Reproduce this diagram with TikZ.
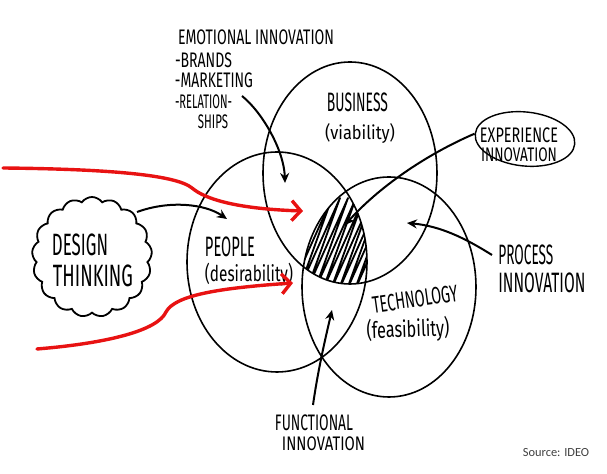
\documentclass[tikz,border=0pt]{standalone}
\usepackage{fontspec}
\usepackage{graphicx}
\usetikzlibrary{shapes.geometric,shapes.symbols,arrows.meta}
\newfontfamily\handfont{Fira Sans}
\newfontfamily\srcfont{Carlito}
\newcommand{\hw}[3]{\resizebox*{#1pt}{#2pt}{\handfont #3}}
\definecolor{redline}{RGB}{232,18,18}
\begin{document}
\begin{tikzpicture}[x=0.5pt,y=-0.5pt,
  ring/.style={draw, ellipse, line width=0.8pt, inner sep=0pt},
  lbl/.style={inner sep=0pt},
  blk/.style={line width=1pt, -{Stealth[length=5pt,width=4.5pt]}},
  redarrow/.style={draw=redline, line width=1.7pt, line cap=round, -{Straight Barb[length=4.5pt,width=10pt]}}
]
\fill[white] (0,0) rectangle (607,474);
\useasboundingbox (0,0) rectangle (607,474);

% three circles
\node[ring, minimum width=87pt, minimum height=111pt] (business) at (350,173) {};
\node[ring, minimum width=90pt, minimum height=110pt] (people) at (277,262) {};
\node[ring, minimum width=87pt, minimum height=110pt] (tech) at (389,287) {};

% hatching of the common part
\begin{scope}
  \clip (350,173) ellipse [x radius=87, y radius=111];
  \clip (277,262) ellipse [x radius=90, y radius=110];
  \clip (389,287) ellipse [x radius=87, y radius=110];
  \draw[line width=0.9pt, line join=round] (250,292)
    \foreach \i in {0,...,17} { -- ({250+8*\i+42},198) -- ({250+8*\i+8},292) };
\end{scope}

% circle labels
\node[lbl] (bizT) at (357.5,102.5) {\hw{30.5}{9.5}{BUSINESS}};
\node[lbl] (bizS) at (360,134) {\hw{35}{10}{(viability)}};
\node[lbl] (peoT) at (230,247) {\hw{25}{10}{PEOPLE}};
\node[lbl] (peoS) at (249,274.5) {\hw{44}{11.5}{(desirability)}};
\node[lbl, rotate=8] (tecT) at (415,299) {\hw{43}{8.5}{TECHNOLOGY}};
\node[lbl, rotate=2] (tecS) at (408,330) {\hw{41.5}{12}{(feasibility)}};

% emotional innovation
\node[lbl] (emo) at (256,37.5) {\hw{78}{7.5}{EMOTIONAL INNOVATION}};
\node[lbl] (brands) at (203.5,60.5) {\hw{28.5}{7.5}{-BRANDS}};
\node[lbl] (mkt) at (214,80.5) {\hw{39}{7.5}{-MARKETING}};
\node[lbl] (rel) at (203.5,102) {\hw{28.5}{7}{-RELATION-}};
\node[lbl] (ships) at (213,122) {\hw{15}{7}{SHIPS}};
\coordinate (emoS) at (242,96);
\coordinate (emoE) at (285,183);
\draw[blk] (emoS) .. controls (262,112) and (284,150) .. (emoE);

% experience innovation
\node[draw, ellipse, line width=0.7pt, inner sep=0pt, minimum width=50pt, minimum height=27pt, rotate=-6] (expE) at (525,139) {};
\node[lbl] (exp1) at (519,135.5) {\hw{39}{7.5}{EXPERIENCE}};
\node[lbl] (exp2) at (519,155) {\hw{38}{7}{INNOVATION}};
\coordinate (hatchTip) at (345,225);
\draw[blk] (expE.west) .. controls (425,155) and (378,188) .. (hatchTip);

% process innovation
\node[lbl, anchor=west] (pro1) at (498,255) {\hw{27.5}{10}{PROCESS}};
\node[lbl, anchor=west] (pro2) at (498,283) {\hw{43.5}{10}{INNOVATION}};
\coordinate (proS) at (492,255);
\coordinate (proE) at (407,223);
\draw[blk] (proS) .. controls (465,238) and (440,226) .. (proE);

% functional innovation
\node[lbl] (fun1) at (314,423) {\hw{39}{8}{FUNCTIONAL}};
\node[lbl] (fun2) at (323.5,443.5) {\hw{41.5}{7}{INNOVATION}};
\coordinate (funS) at (313,405);
\coordinate (funE) at (332,310);
\draw[blk] (funS) .. controls (318,370) and (325,340) .. (funE);

% design thinking cloud
\node[cloud, draw, cloud puffs=17, cloud puff arc=110, aspect=1, minimum width=60pt, minimum height=60pt, line width=0.9pt, inner sep=0pt] (design) at (92,257) {};
\node[lbl] (dt1) at (80,244.5) {\hw{28}{11}{DESIGN}};
\node[lbl] (dt2) at (93,275.5) {\hw{40}{11}{THINKING}};
\coordinate (dsS) at (137,212);
\coordinate (dsE) at (227,219);
\draw[blk] (dsS) .. controls (170,200) and (205,204) .. (dsE);

% red arrows
\coordinate (r1S) at (3,168);
\coordinate (r1M) at (192,188);
\coordinate (r1E) at (303,211);
\draw[redarrow] (r1S) .. controls (100,169) and (175,174) .. (r1M) .. controls (206,200) and (240,209) .. (r1E);
\coordinate (r2S) at (37,349);
\coordinate (r2M) at (166,312);
\coordinate (r2E) at (293,283);
\draw[redarrow] (r2S) .. controls (110,343) and (158,330) .. (r2M) .. controls (175,295) and (220,288) .. (r2E);

% source
\node[lbl, text=black!75] (src) at (556,453) {\srcfont\fontsize{6.2}{7}\selectfont Source: IDEO};
\end{tikzpicture}
\end{document}
